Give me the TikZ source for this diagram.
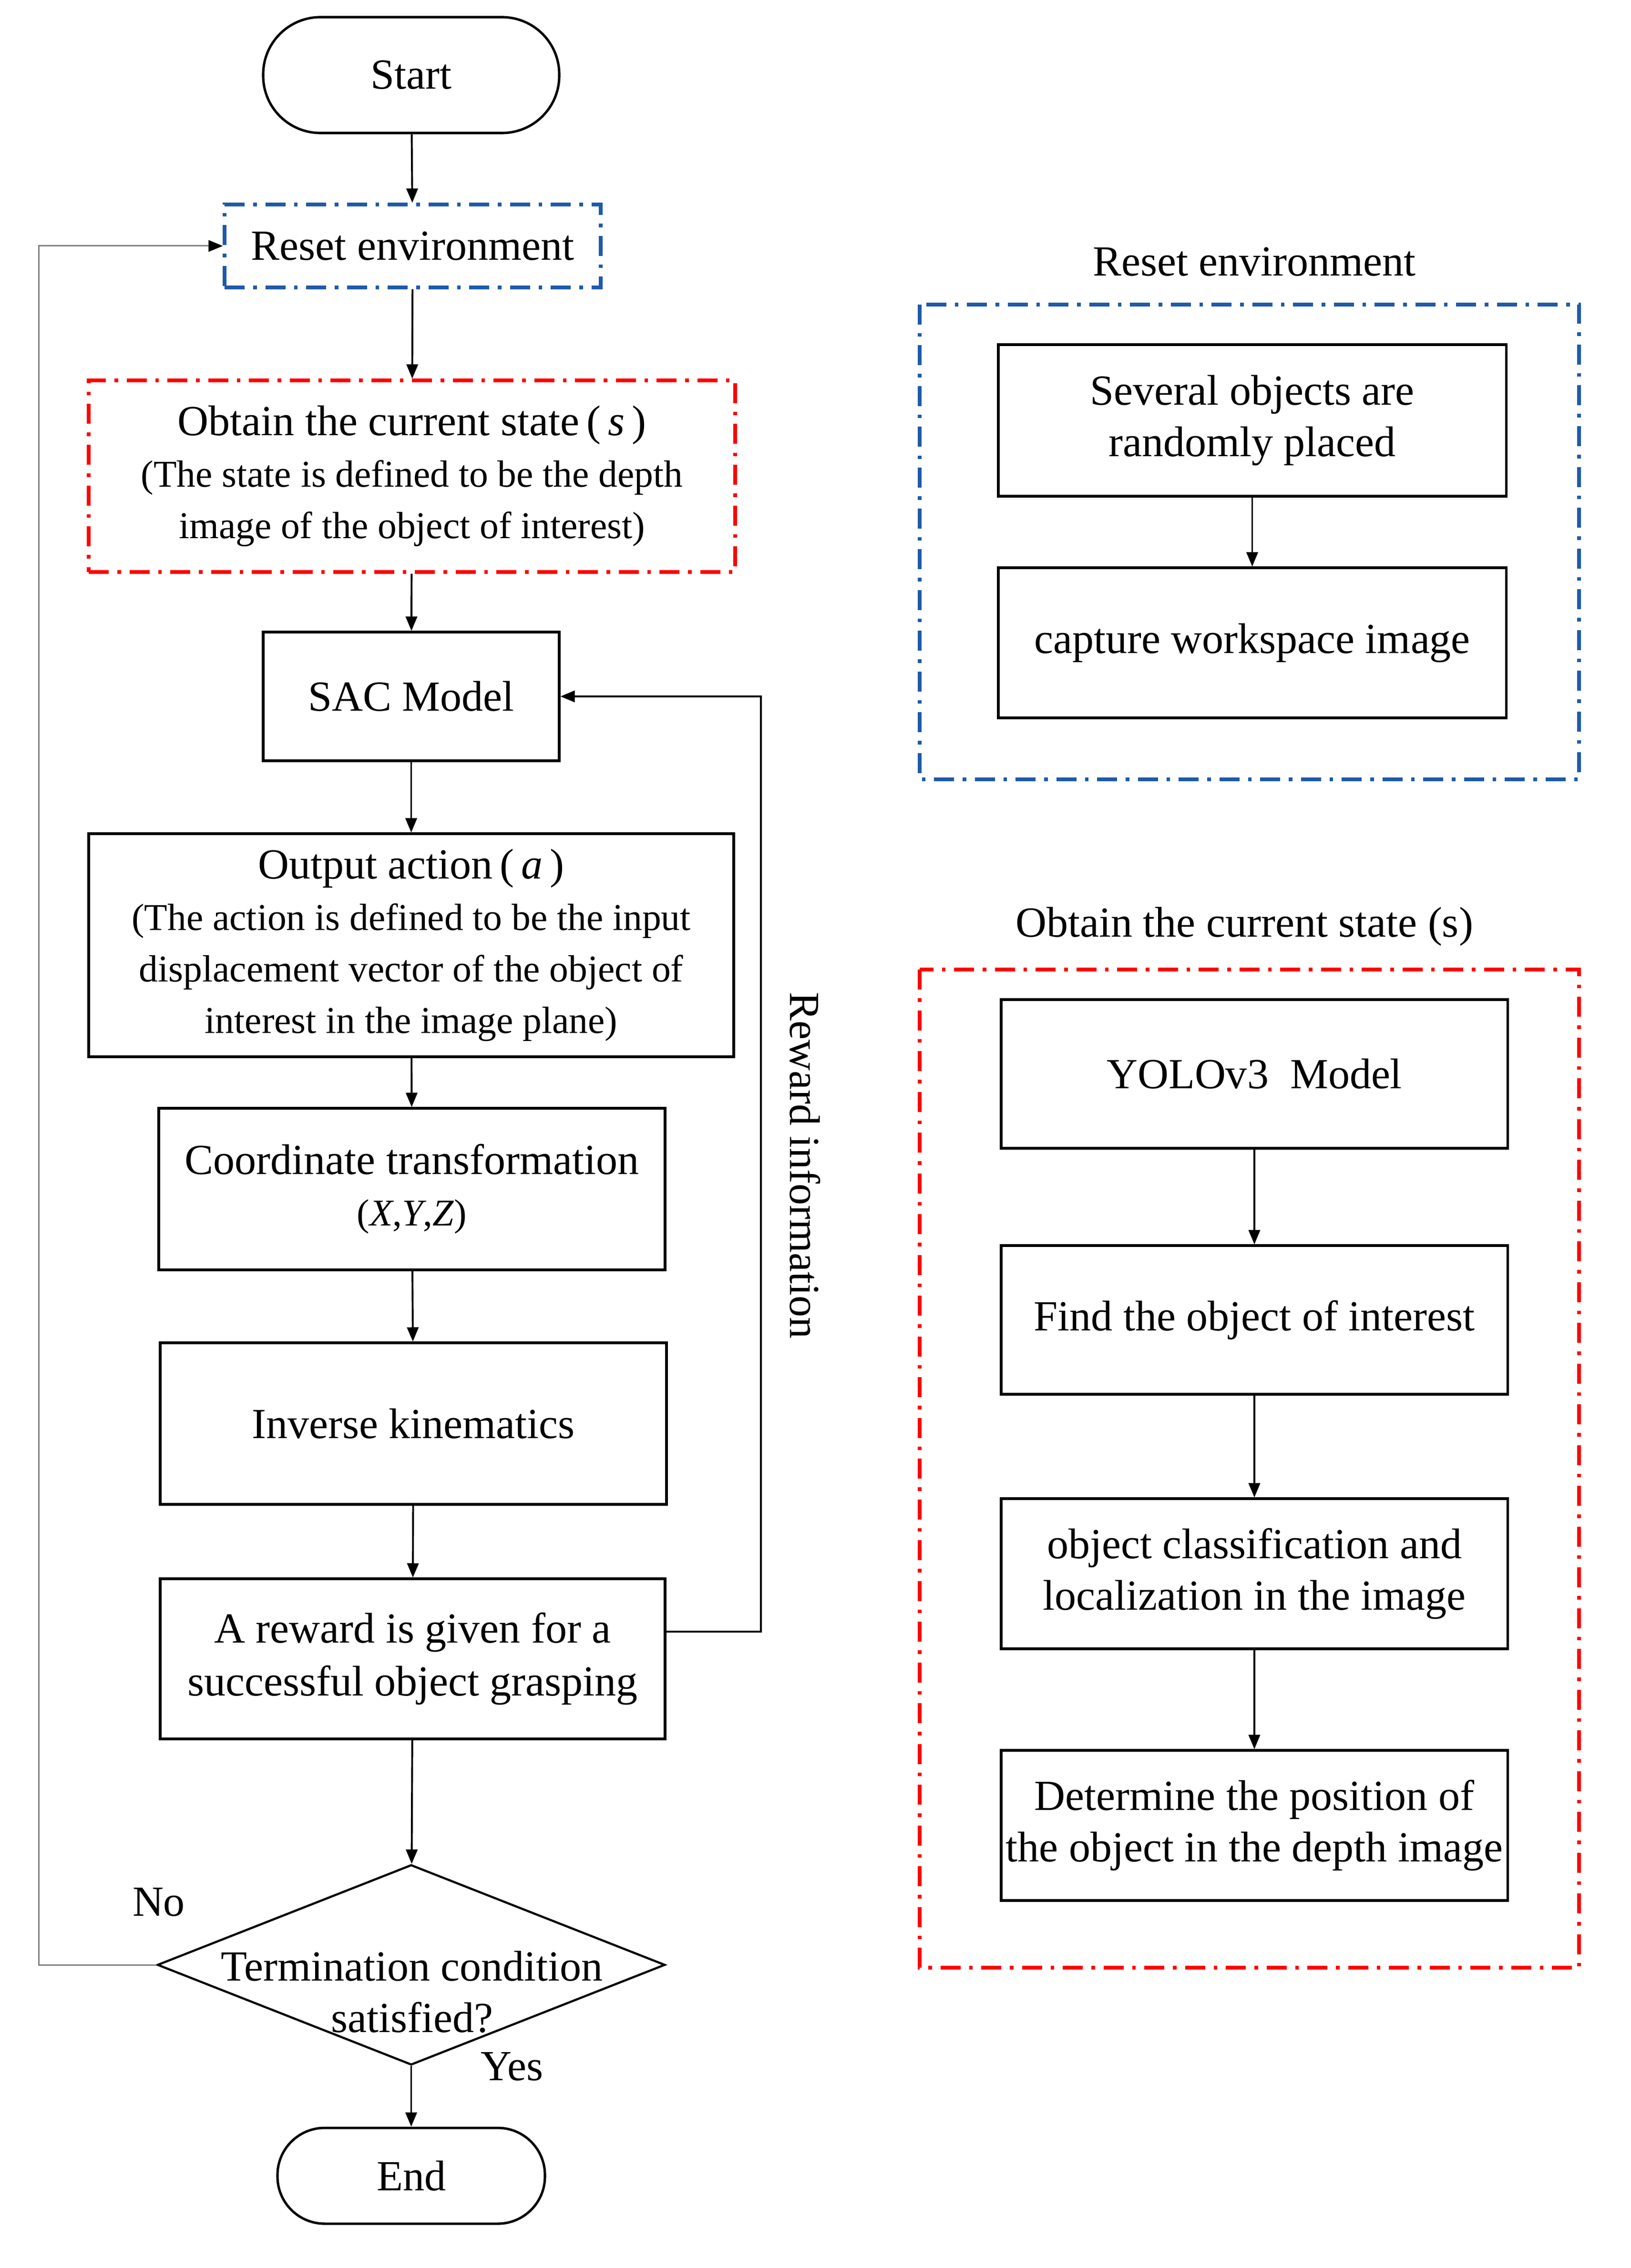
\documentclass[tikz,border=0pt]{standalone}
\usepackage{fontspec}
\setmainfont{Liberation Serif}
\usetikzlibrary{arrows.meta,shapes.geometric,calc}
\definecolor{dblue}{RGB}{30,90,170}
\definecolor{dred}{RGB}{255,0,0}
\newcommand{\smtxt}{\fontsize{26.5}{33}\selectfont}
\begin{document}
\begin{tikzpicture}[x=1pt,y=-1pt,
  every node/.style={font=\fontsize{30}{36}\selectfont, inner sep=0pt},
  box/.style={draw, line width=1.7pt, align=center},
  term/.style={box, rounded corners=#1},
  arr/.style={line width=1.3pt, -{Triangle[length=10pt,width=8pt]}},
  blueframe/.style={draw=dblue, line width=2.4pt, dash pattern=on 14pt off 6pt on 2.5pt off 6pt},
  redframe/.style={draw=dred, line width=2.4pt, dash pattern=on 14pt off 6pt on 2.5pt off 6pt},
  lab/.style={}]
\useasboundingbox (0,0) rectangle (1140,1586);

% ---------- left flow ----------
\node[term=40pt, minimum width=207pt, minimum height=81pt] (start) at (287.5,52.5) {Start};
\node[blueframe, align=center, minimum width=263pt, minimum height=58pt] (reset) at (288.5,172) {Reset environment};
\node[redframe, align=center, minimum width=452pt, minimum height=134pt] (obs) at (288,333)
  {Obtain the current state\,(\,\textit{s}\,)\\ \smtxt(The state is defined\ to be the depth\\ \smtxt image of the object\ of interest)};
\node[box, minimum width=207pt, minimum height=90pt] (sac) at (287.5,487) {SAC Model};
\node[box, minimum width=451pt, minimum height=156pt] (act) at (287.5,661)
  {Output action\,(\,\textit{a}\,)\\ \smtxt(The action is defined\ to be the input\\ \smtxt displacement\ vector of the object of\\ \smtxt interest\ in the image plane)};
\node[box, minimum width=354pt, minimum height=113pt] (coord) at (288,831.5)
  {Coordinate transformation\\ \smtxt(\textit{X},\textit{Y},\textit{Z})};
\node[box, minimum width=354pt, minimum height=113pt] (ik) at (289,995.5) {Inverse kinematics};
\node[box, minimum width=353pt, minimum height=112pt, font=\fontsize{30}{37}\selectfont] (rew) at (288.5,1160)
  {A reward is given for a\\successful object grasping};
\node[draw, diamond, line width=1.5pt, minimum width=355pt, minimum height=140pt] (dec) at (287.5,1374) {};
\node[align=center, font=\fontsize{30}{36}\selectfont] (dectext) at (288,1393) {Termination condition\\satisfied?};
\node[term=33pt, minimum width=187pt, minimum height=67pt] (end) at (287.5,1521.5) {End};

\node[lab] (no) at (111,1330) {No};
\node[lab] (yes) at (358,1445) {Yes};
\node[lab, rotate=-90] (rinfo) at (563,815) {Reward information};

\draw[arr] (start) -- (reset);
\draw[arr] (reset) -- (obs);
\draw[arr] (obs) -- (sac);
\draw[arr] (sac) -- (act);
\draw[arr] (act) -- (coord);
\draw[arr] (coord) -- (ik);
\draw[arr] (ik) -- (rew);
\draw[arr] (rew) -- (dec);
\draw[arr] (dec) -- (end);

\coordinate (rr) at (532,1141);
\draw[arr] (rew.east |- rr) -- (rr) |- (sac.east);
\coordinate (ll) at (27,1374);
\draw[line width=1pt, draw=gray, -{Triangle[length=10pt,width=8pt,color=black]}] (dec.west) -- (ll) |- (reset.west);

% ---------- right: reset environment ----------
\node (t1) at (877,183) {Reset environment};
\draw[blueframe] (643,213) rectangle (1104,545);
\node[box, minimum width=355pt, minimum height=106pt] (sev) at (875.5,294) {Several objects are\\randomly placed};
\node[box, minimum width=355pt, minimum height=105pt] (cap) at (875.5,449.5) {capture workspace image};
\draw[arr] (sev) -- (cap);

% ---------- right: obtain the current state ----------
\node (t2) at (870,648) {Obtain the current state (s)};
\draw[redframe] (643,678) rectangle (1104,1376);
\node[box, minimum width=354pt, minimum height=104pt] (yolo) at (877,751) {YOLOv3\ \ Model};
\node[box, minimum width=354pt, minimum height=104pt] (find) at (877,923) {Find the object of interest};
\node[box, minimum width=354pt, minimum height=105pt] (cls) at (877,1100.5) {object classification and\\localization in the image};
\node[box, minimum width=354pt, minimum height=105pt] (det) at (877,1276.5) {Determine the position of\\the object in the depth image};
\draw[arr] (yolo) -- (find);
\draw[arr] (find) -- (cls);
\draw[arr] (cls) -- (det);
\end{tikzpicture}
\end{document}
